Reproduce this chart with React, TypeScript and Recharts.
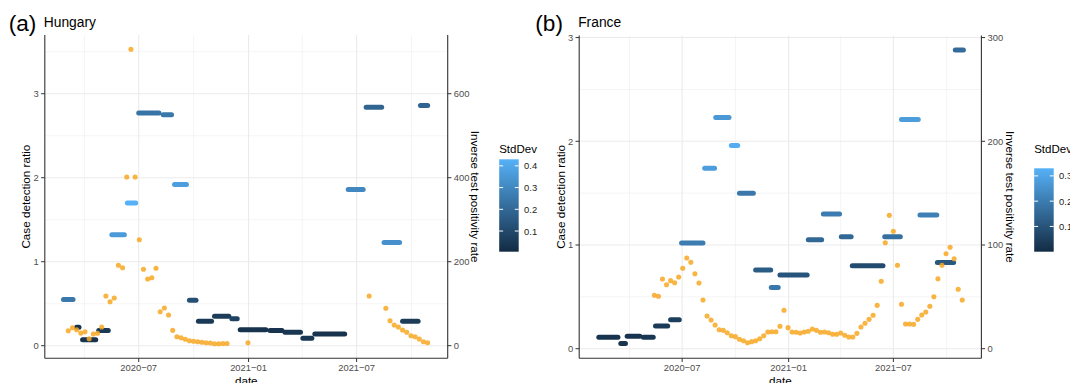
import React from 'react'
import { ComposedChart, Line, Scatter, XAxis, YAxis, CartesianGrid } from 'recharts'

const FONT = '"Liberation Sans", Arial, Helvetica, sans-serif'

// Hungary: estimation windows (from / to), case detection ratio, std dev
const huSegFrom = ['2020-02-26', '2020-03-19', '2020-03-29', '2020-04-25', '2020-05-17', '2020-06-12', '2020-07-01', '2020-08-11', '2020-08-30', '2020-09-24', '2020-10-09', '2020-11-05', '2020-12-04', '2020-12-18', '2021-02-06', '2021-03-03', '2021-04-02', '2021-04-22', '2021-06-17', '2021-07-17', '2021-08-16', '2021-09-16', '2021-10-16']
const huSegTo = ['2020-03-13', '2020-03-23', '2020-04-20', '2020-05-11', '2020-06-07', '2020-06-26', '2020-08-04', '2020-08-25', '2020-09-19', '2020-10-05', '2020-10-31', '2020-11-29', '2020-12-13', '2021-01-30', '2021-02-26', '2021-03-29', '2021-04-17', '2021-06-11', '2021-07-12', '2021-08-12', '2021-09-11', '2021-10-12', '2021-10-28']
const huRatio = [0.55, 0.22, 0.07, 0.18, 1.32, 1.7, 2.77, 2.75, 1.92, 0.54, 0.29, 0.35, 0.32, 0.19, 0.18, 0.16, 0.09, 0.14, 1.86, 2.84, 1.23, 0.29, 2.86]
const huSd = [0.25, 0.03, 0.03, 0.05, 0.36, 0.43, 0.24, 0.25, 0.37, 0.12, 0.05, 0.06, 0.08, 0.03, 0.03, 0.04, 0.04, 0.03, 0.3, 0.19, 0.33, 0.06, 0.19]

// Hungary: inverse test positivity rate (weekly)
const huDotDates = ['2020-03-05', '2020-03-12', '2020-03-19', '2020-03-26', '2020-04-02', '2020-04-09', '2020-04-16', '2020-04-23', '2020-04-30', '2020-05-07', '2020-05-14', '2020-05-21', '2020-05-28', '2020-06-04', '2020-06-11', '2020-06-18', '2020-06-25', '2020-07-02', '2020-07-09', '2020-07-16', '2020-07-23', '2020-07-30', '2020-08-06', '2020-08-13', '2020-08-20', '2020-08-27', '2020-09-03', '2020-09-10', '2020-09-17', '2020-09-24', '2020-10-01', '2020-10-08', '2020-10-15', '2020-10-22', '2020-10-29', '2020-11-05', '2020-11-12', '2020-11-19', '2020-11-26', '2020-12-31', '2021-07-22', '2021-08-19', '2021-08-26', '2021-09-02', '2021-09-09', '2021-09-16', '2021-09-23', '2021-09-30', '2021-10-07', '2021-10-14', '2021-10-21', '2021-10-28']
const huDotValues = [35.7, 42.9, 38, 30, 33.3, 16.7, 27.9, 29.5, 44.5, 118.3, 104.8, 113.6, 191.4, 185.7, 401.7, 705.7, 401.7, 252.4, 181.9, 158.8, 161.9, 184.3, 81, 89.8, 73.1, 36.6, 21.4, 19, 15.2, 11.9, 10.5, 9.5, 8.1, 7.1, 6.4, 4.8, 4.8, 5.2, 5.2, 7.1, 118.3, 89, 59.5, 49.3, 44.5, 37.4, 31.9, 23.8, 21.4, 16, 9.5, 7.1]

// France: estimation windows, ratio, std dev
const frSegFrom = ['2020-02-08', '2020-03-17', '2020-03-28', '2020-04-25', '2020-05-16', '2020-06-11', '2020-06-30', '2020-08-09', '2020-08-28', '2020-09-24', '2020-10-08', '2020-11-05', '2020-12-02', '2020-12-17', '2021-02-04', '2021-03-02', '2021-04-02', '2021-04-21', '2021-06-16', '2021-07-15', '2021-08-16', '2021-09-15', '2021-10-16']
const frSegTo = ['2020-03-12', '2020-03-25', '2020-04-19', '2020-05-12', '2020-06-06', '2020-06-26', '2020-08-06', '2020-08-26', '2020-09-20', '2020-10-05', '2020-11-01', '2020-12-01', '2020-12-14', '2021-02-02', '2021-02-27', '2021-03-30', '2021-04-19', '2021-06-13', '2021-07-13', '2021-08-13', '2021-09-14', '2021-10-13', '2021-10-30']
const frRatio = [0.11, 0.05, 0.12, 0.11, 0.22, 0.28, 1.02, 1.74, 2.23, 1.96, 1.5, 0.76, 0.59, 0.71, 1.05, 1.3, 1.08, 0.8, 1.08, 2.21, 1.29, 0.83, 2.88]
const frSd = [0.02, 0.02, 0.02, 0.03, 0.04, 0.05, 0.2, 0.28, 0.27, 0.32, 0.19, 0.12, 0.19, 0.1, 0.15, 0.2, 0.15, 0.08, 0.17, 0.28, 0.21, 0.11, 0.16]

const frDotDates = ['2020-05-14', '2020-05-21', '2020-05-28', '2020-06-04', '2020-06-11', '2020-06-18', '2020-06-25', '2020-07-02', '2020-07-09', '2020-07-16', '2020-07-23', '2020-07-30', '2020-08-06', '2020-08-13', '2020-08-20', '2020-08-27', '2020-09-03', '2020-09-10', '2020-09-17', '2020-09-24', '2020-10-01', '2020-10-08', '2020-10-15', '2020-10-22', '2020-10-29', '2020-11-05', '2020-11-12', '2020-11-19', '2020-11-26', '2020-12-03', '2020-12-10', '2020-12-17', '2020-12-24', '2020-12-31', '2021-01-07', '2021-01-14', '2021-01-21', '2021-01-28', '2021-02-04', '2021-02-11', '2021-02-18', '2021-02-25', '2021-03-04', '2021-03-11', '2021-03-18', '2021-03-25', '2021-04-01', '2021-04-08', '2021-04-15', '2021-04-22', '2021-04-29', '2021-05-06', '2021-05-13', '2021-05-20', '2021-05-27', '2021-06-03', '2021-06-10', '2021-06-17', '2021-06-24', '2021-07-01', '2021-07-08', '2021-07-15', '2021-07-22', '2021-07-29', '2021-08-05', '2021-08-12', '2021-08-19', '2021-08-26', '2021-09-02', '2021-09-09', '2021-09-16', '2021-09-23', '2021-09-30', '2021-10-07', '2021-10-14', '2021-10-21', '2021-10-28']
const frDotValues = [51.5, 50.5, 67.2, 61.7, 65.6, 63.6, 69.1, 77.5, 87.5, 83.3, 72.3, 63.4, 47, 31.5, 27.7, 22.9, 18.3, 17.7, 15.4, 12.5, 11.6, 9.1, 7.7, 5.8, 6.8, 7.7, 9.6, 12.5, 16.1, 16.4, 16.4, 21.6, 37, 20.3, 16.1, 15.8, 15.1, 16.1, 16.8, 19, 17.7, 15.8, 16.1, 15.4, 13.9, 13.9, 15.1, 12.9, 11.3, 11.3, 14.8, 20.9, 24.5, 28.3, 32.2, 41.8, 65, 102.2, 128.6, 113.2, 80.4, 42.8, 23.8, 23.8, 23.5, 28.3, 32.5, 35.4, 40.9, 50.1, 67.5, 80.4, 91.6, 97.8, 86.8, 57.3, 47]

const majorDates = ['2020-07-01', '2021-01-01', '2021-07-01']
const minorDates = ['2020-04-01', '2020-10-01', '2021-04-01', '2021-10-01']

const EPOCH = Date.parse('2020-01-01')
const day = (s: string) => (Date.parse(s) - EPOCH) / 86400000

const fmtMonth = (d: number) => {
  const dt = new Date(EPOCH + d * 86400000)
  return `${dt.getUTCFullYear()}\u2212${String(dt.getUTCMonth() + 1).padStart(2, '0')}`
}

const LOW = [0x13, 0x2b, 0x43]
const HIGH = [0x56, 0xb1, 0xf7]
const sdColor = (v: number, min: number, max: number) => {
  const t = Math.max(0, Math.min(1, (v - min) / (max - min)))
  const c = LOW.map((l, i) => Math.round(l + (HIGH[i] - l) * t))
  return `rgb(${c[0]},${c[1]},${c[2]})`
}

const Dot = (p: any) => <circle cx={p.cx} cy={p.cy} r={2.55} fill="#F7A823" fillOpacity={0.85} />

type PanelProps = {
  id: string
  tag: string
  title: string
  left: number
  plot: { left: number; right: number; top: number; bottom: number }
  xDomain: [number, number]
  yDomain: [number, number]
  k: number
  rightTicks: number[]
  segFrom: string[]
  segTo: string[]
  ratio: number[]
  sd: number[]
  sdRange: [number, number]
  sdTicks: number[]
  barTop: number
  dotDates: string[]
  dotValues: number[]
}

const W = 535
const H = 383
const axisColor = '#333333'

function Panel(p: PanelProps) {
  const dots = p.dotDates.map((d, i) => ({ x: day(d), y: p.dotValues[i] }))
  const majorX = majorDates.map(day)
  const minorX = minorDates.map(day)
  const majorY = [0, 1, 2, 3]
  const minorY = [0.5, 1.5, 2.5, 3.5].filter((v) => v < p.yDomain[1])
  const barH = 251.7 - p.barTop
  const barX = 499.2
  const barW = 19.5
  const [sdMin, sdMax] = p.sdRange
  const tickY = (v: number) => p.barTop + ((sdMax - v) / (sdMax - sdMin)) * barH
  const midY = (p.plot.top + p.plot.bottom) / 2
  const midX = (p.plot.left + p.plot.right) / 2

  return (
    <div style={{ position: 'absolute', left: p.left, top: 0, width: W, height: H }}>
      <ComposedChart
        width={W}
        height={H}
        margin={{ top: p.plot.top, right: W - p.plot.right - 40, bottom: H - p.plot.bottom - 20, left: p.plot.left - 32 }}
        style={{ fontFamily: FONT }}
      >
        <CartesianGrid yAxisId="l" stroke="#EBEBEB" strokeWidth={0.55} horizontalValues={minorY} verticalValues={minorX} />
        <CartesianGrid yAxisId="l" stroke="#EBEBEB" strokeWidth={1.1} horizontalValues={majorY} verticalValues={majorX} />
        <XAxis
          type="number"
          dataKey="x"
          domain={p.xDomain}
          allowDataOverflow
          ticks={majorX}
          interval={0}
          tickFormatter={fmtMonth}
          height={20}
          tickSize={3.7}
          tickMargin={2.4}
          tick={{ fontSize: 9.4, fill: '#4D4D4D' }}
          tickLine={{ stroke: axisColor }}
          axisLine={{ stroke: axisColor, strokeWidth: 1.1 }}
        />
        <XAxis xAxisId="top" orientation="top" type="number" domain={p.xDomain} allowDataOverflow height={0} tick={false} tickLine={false} axisLine={{ stroke: axisColor, strokeWidth: 1.1 }} />
        <YAxis
          yAxisId="l"
          type="number"
          domain={p.yDomain}
          allowDataOverflow
          ticks={majorY}
          interval={0}
          width={32}
          tickSize={3.7}
          tickMargin={2.4}
          tick={{ fontSize: 9.4, fill: '#4D4D4D' }}
          tickLine={{ stroke: axisColor }}
          axisLine={{ stroke: axisColor, strokeWidth: 1.1 }}
        />
        <YAxis
          yAxisId="r"
          orientation="right"
          type="number"
          domain={[p.yDomain[0] * p.k, p.yDomain[1] * p.k]}
          allowDataOverflow
          ticks={p.rightTicks}
          interval={0}
          width={40}
          tickSize={3.7}
          tickMargin={2.4}
          tick={{ fontSize: 9.4, fill: '#4D4D4D' }}
          tickLine={{ stroke: axisColor }}
          axisLine={{ stroke: axisColor, strokeWidth: 1.1 }}
        />
        {p.ratio.map((r, i) => (
          <Line
            key={`seg-${i}`}
            yAxisId="l"
            data={[
              { x: day(p.segFrom[i]), y: r },
              { x: day(p.segTo[i]), y: r },
            ]}
            dataKey="y"
            stroke={sdColor(p.sd[i], sdMin, sdMax)}
            strokeWidth={5}
            strokeLinecap="round"
            dot={false}
            activeDot={false}
            isAnimationActive={false}
          />
        ))}
        <Scatter yAxisId="r" data={dots} dataKey="y" shape={Dot} isAnimationActive={false} />
      </ComposedChart>

      <svg width={W} height={H} style={{ position: 'absolute', left: 0, top: 0, pointerEvents: 'none', overflow: 'visible' }} fontFamily={FONT}>
        <defs>
          <linearGradient id={`grad-${p.id}`} x1="0" y1="0" x2="0" y2="1">
            <stop offset="0" stopColor={sdColor(sdMax, sdMin, sdMax)} />
            <stop offset="1" stopColor={sdColor(sdMin, sdMin, sdMax)} />
          </linearGradient>
        </defs>
        <text x={p.id === 'hu' ? 8.7 : 0.3} y={30.8} fontSize={22.6} fill="#000">{p.tag}</text>
        <text x={p.plot.left - 1} y={27.3} fontSize={13.8} fill="#000">{p.title}</text>
        <text transform={`translate(25,${midY}) rotate(-90)`} textAnchor="middle" dominantBaseline="central" fontSize={11.7} fill="#000">
          Case detection ratio
        </text>
        <text transform={`translate(475,${midY}) rotate(90)`} textAnchor="middle" dominantBaseline="central" fontSize={11.7} fill="#000">
          Inverse test positivity rate
        </text>
        <text x={midX} y={385} textAnchor="middle" fontSize={11.7} fill="#000">date</text>

        <text x={barX} y={153.4} fontSize={11.5} fill="#000">StdDev</text>
        <rect x={barX} y={p.barTop} width={barW} height={barH} fill={`url(#grad-${p.id})`} />
        {p.sdTicks.map((t) => (
          <g key={t}>
            <line x1={barX} x2={barX + 3.9} y1={tickY(t)} y2={tickY(t)} stroke="#fff" strokeWidth={1} />
            <line x1={barX + barW - 3.9} x2={barX + barW} y1={tickY(t)} y2={tickY(t)} stroke="#fff" strokeWidth={1} />
            <text x={barX + barW + 5.4} y={tickY(t)} dominantBaseline="central" fontSize={9.4} fill="#1A1A1A">
              {t.toFixed(1)}
            </text>
          </g>
        ))}
      </svg>
    </div>
  )
}

export default function App() {
  return (
    <div style={{ position: 'absolute', left: 0, top: 0, width: 1070, height: H, overflow: 'hidden', background: '#fff' }}>
      <Panel
        id="hu"
        tag="(a)"
        title="Hungary"
        left={0}
        plot={{ left: 44.8, right: 447.7, top: 35, bottom: 358.3 }}
        xDomain={[day('2020-01-25') + 0.7, day('2021-11-30') + 0.6]}
        yDomain={[-0.15, 3.699]}
        k={200}
        rightTicks={[0, 200, 400, 600]}
        segFrom={huSegFrom}
        segTo={huSegTo}
        ratio={huRatio}
        sd={huSd}
        sdRange={[0.005, 0.43]}
        sdTicks={[0.1, 0.2, 0.3, 0.4]}
        barTop={159.3}
        dotDates={huDotDates}
        dotValues={huDotValues}
      />
      <Panel
        id="fr"
        tag="(b)"
        title="France"
        left={535}
        plot={{ left: 44.2, right: 446.4, top: 35.5, bottom: 358.3 }}
        xDomain={[day('2020-01-05') + 0.1, day('2021-11-30') + 0.1]}
        yDomain={[-0.0926, 3.02]}
        k={100}
        rightTicks={[0, 100, 200, 300]}
        segFrom={frSegFrom}
        segTo={frSegTo}
        ratio={frRatio}
        sd={frSd}
        sdRange={[0, 0.33]}
        sdTicks={[0.1, 0.2, 0.3]}
        barTop={168.3}
        dotDates={frDotDates}
        dotValues={frDotValues}
      />
    </div>
  )
}
